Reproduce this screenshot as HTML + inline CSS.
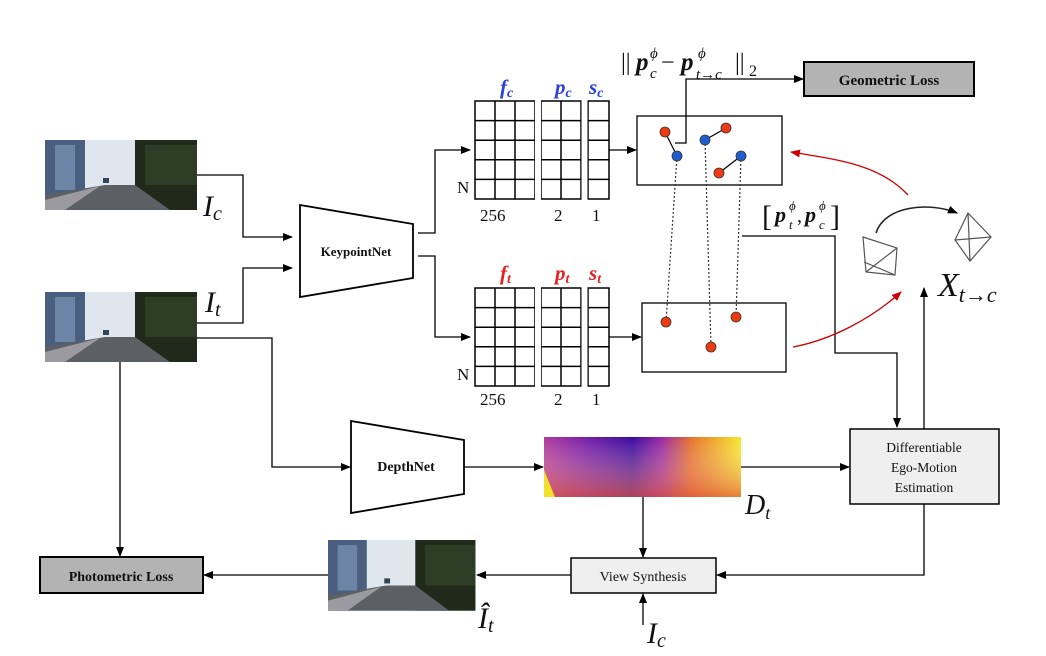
<!DOCTYPE html>
<html><head><meta charset="utf-8"><style>
html,body{margin:0;padding:0;background:#fff}
svg{display:block}
.s{font-family:"Liberation Serif",serif}
</style></head><body>
<svg width="1046" height="656" viewBox="0 0 1046 656" xmlns="http://www.w3.org/2000/svg">
<defs>
<marker id="a" markerWidth="10" markerHeight="8" refX="9" refY="4" orient="auto" markerUnits="userSpaceOnUse"><path d="M0,0 L10,4 L0,8 z" fill="#000"/></marker>
<marker id="r" markerWidth="10" markerHeight="8" refX="9" refY="4" orient="auto" markerUnits="userSpaceOnUse"><path d="M0,0 L10,4 L0,8 z" fill="#c00"/></marker>
<linearGradient id="dg" x1="0" y1="0" x2="1" y2="0">
<stop offset="0" stop-color="#b03a9a"/><stop offset="0.2" stop-color="#7a1fa8"/><stop offset="0.45" stop-color="#3b0a9e"/><stop offset="0.6" stop-color="#9a28a0"/><stop offset="0.75" stop-color="#e8732a"/><stop offset="1" stop-color="#f5e72a"/></linearGradient>
<linearGradient id="dv" x1="0" y1="0" x2="0" y2="1"><stop offset="0" stop-color="#fff" stop-opacity="0"/><stop offset="1" stop-color="#e0583a" stop-opacity="0.7"/></linearGradient>
<g id="img">
<rect x="0" y="0" width="152" height="70" fill="#dfe6ee"/>
<rect x="0" y="0" width="40" height="58" fill="#4a5f80"/>
<rect x="10" y="5" width="20" height="45" fill="#6e84a6"/>
<rect x="90" y="0" width="62" height="70" fill="#1f2a1a"/>
<rect x="100" y="5" width="52" height="40" fill="#2e3d25"/>
<path d="M0,70 L0,55 L60,45 L90,45 L125,70 z" fill="#5c5f63"/>
<path d="M0,70 L0,60 L55,46 L20,70 z" fill="#9a9aa0"/>
<rect x="58" y="38" width="6" height="5" fill="#345"/>
</g>
</defs>

<use href="#img" x="45" y="140"/>
<use href="#img" x="45" y="292"/>
<use href="#img" x="328" y="540" transform="translate(328,540) scale(0.97,1.01) translate(-328,-540)"/>

<g stroke="#000" stroke-width="1.3" fill="none">
<polyline points="197,175 243,175 243,237 292,237" marker-end="url(#a)"/>
<polyline points="197,323 243,323 243,268 292,268" marker-end="url(#a)"/>
<polygon points="300,205 413,224 413,278 300,297" stroke-width="1.8"/>
<polyline points="418,233 435,233 435,150 470,150" marker-end="url(#a)"/>
<polyline points="418,256 435,256 435,337 470,337" marker-end="url(#a)"/>
<polyline points="609,150 636,150" marker-end="url(#a)"/>
<polyline points="609,337 641,337" marker-end="url(#a)"/>
<rect x="637" y="116" width="145" height="69"/>
<rect x="642" y="303" width="144" height="69"/>
<polyline points="675,143 686,143 686,79 803,79" marker-end="url(#a)"/>
<polyline points="742,236 835,236 835,353 897,353 897,427" marker-end="url(#a)"/>
<polyline points="924,429 924,288" marker-end="url(#a)"/>
<polyline points="197,338 272,338 272,467 350,467" marker-end="url(#a)"/>
<polygon points="351,421 464,440 464,494 351,513" stroke-width="1.8"/>
<polyline points="464,467 543,467" marker-end="url(#a)"/>
<polyline points="741,467 849,467" marker-end="url(#a)"/>
<polyline points="643,497 643,557" marker-end="url(#a)"/>
<polyline points="924,504 924,575 717,575" marker-end="url(#a)"/>
<polyline points="643,625 643,594" marker-end="url(#a)"/>
<polyline points="571,575 477,575" marker-end="url(#a)"/>
<polyline points="328,575 204,575" marker-end="url(#a)"/>
<polyline points="120,362 120,556" marker-end="url(#a)"/>
</g>

<g stroke="#000" stroke-width="1.5" fill="#fff">
<g id="grid">
<rect x="475" y="101" width="60" height="98"/>
<line x1="495" y1="101" x2="495" y2="199"/><line x1="515" y1="101" x2="515" y2="199"/>
<rect x="541" y="101" width="40" height="98"/>
<line x1="561" y1="101" x2="561" y2="199"/>
<rect x="588" y="101" width="21" height="98"/>
<line x1="475" y1="120.6" x2="609" y2="120.6"/><line x1="475" y1="140.2" x2="609" y2="140.2"/><line x1="475" y1="159.8" x2="609" y2="159.8"/><line x1="475" y1="179.4" x2="609" y2="179.4"/>
</g>
<use href="#grid" y="187"/>
</g>
<g stroke="#fff" stroke-width="6"><line x1="538" y1="100" x2="538" y2="200"/><line x1="584.5" y1="100" x2="584.5" y2="200"/><line x1="538" y1="287" x2="538" y2="387"/><line x1="584.5" y1="287" x2="584.5" y2="387"/></g>

<g class="s" font-size="17" fill="#111">
<text x="457" y="193">N</text><text x="457" y="380">N</text>
<text x="480" y="221">256</text><text x="554" y="221">2</text><text x="592" y="221">1</text>
<text x="480" y="405">256</text><text x="554" y="405">2</text><text x="592" y="405">1</text>
</g>
<g class="s" font-size="21" font-weight="bold" font-style="italic">
<text x="500" y="94" fill="#2a3fe0">f<tspan font-size="14" dy="3">c</tspan></text>
<text x="555" y="94" fill="#2a3fe0">p<tspan font-size="14" dy="3">c</tspan></text>
<text x="589" y="94" fill="#2a3fe0">s<tspan font-size="14" dy="3">c</tspan></text>
<text x="500" y="280" fill="#e82020">f<tspan font-size="14" dy="3">t</tspan></text>
<text x="555" y="280" fill="#e82020">p<tspan font-size="14" dy="3">t</tspan></text>
<text x="589" y="280" fill="#e82020">s<tspan font-size="14" dy="3">t</tspan></text>
</g>

<g stroke="#000" stroke-width="1.2">
<line x1="665" y1="132" x2="677" y2="156"/><line x1="705" y1="140" x2="726" y2="128"/><line x1="741" y1="156" x2="719" y2="173"/>
</g>
<g stroke="#333" stroke-width="1.2" stroke-dasharray="2,2">
<line x1="677" y1="156" x2="666" y2="322"/><line x1="705" y1="140" x2="711" y2="347"/><line x1="741" y1="156" x2="736" y2="317"/>
</g>
<g stroke="#333" stroke-width="0.8">
<circle cx="665" cy="132" r="5" fill="#f03a10"/><circle cx="726" cy="128" r="5" fill="#f03a10"/><circle cx="719" cy="173" r="5" fill="#f03a10"/>
<circle cx="677" cy="156" r="5" fill="#1f5fd0"/><circle cx="705" cy="140" r="5" fill="#1f5fd0"/><circle cx="741" cy="156" r="5" fill="#1f5fd0"/>
<circle cx="666" cy="322" r="5" fill="#f03a10"/><circle cx="736" cy="317" r="5" fill="#f03a10"/><circle cx="711" cy="347" r="5" fill="#f03a10"/>
</g>

<rect x="804" y="62" width="170" height="34" fill="#b3b3b3" stroke="#000" stroke-width="2"/>
<text x="889" y="85" class="s" font-size="15" font-weight="bold" text-anchor="middle" fill="#111">Geometric Loss</text>

<!-- formula -->
<g class="s" fill="#111">
<text x="621" y="70" font-size="24">||</text>
<text x="636" y="70" font-size="25" font-weight="bold" font-style="italic">p</text>
<text x="650" y="78" font-size="15" font-style="italic">c</text>
<text x="650" y="58" font-size="15" font-style="italic">ϕ</text>
<text x="661" y="70" font-size="24">−</text>
<text x="681" y="70" font-size="25" font-weight="bold" font-style="italic">p</text>
<text x="696" y="79" font-size="15" font-style="italic">t→c</text>
<text x="698" y="58" font-size="15" font-style="italic">ϕ</text>
<text x="735" y="70" font-size="24">||</text>
<text x="749" y="76" font-size="16">2</text>
</g>
<g class="s" fill="#111">
<text x="762" y="226" font-size="30">[</text>
<text x="775" y="222" font-size="22" font-weight="bold" font-style="italic">p</text>
<text x="789" y="229" font-size="13" font-style="italic">t</text>
<text x="789" y="210" font-size="13" font-style="italic">ϕ</text>
<text x="797" y="222" font-size="20">,</text>
<text x="805" y="222" font-size="22" font-weight="bold" font-style="italic">p</text>
<text x="819" y="229" font-size="13" font-style="italic">c</text>
<text x="819" y="210" font-size="13" font-style="italic">ϕ</text>
<text x="830" y="226" font-size="30">]</text>
</g>

<path d="M908,195 C880,165 840,160 791,152" stroke="#c00" stroke-width="1.3" fill="none" marker-end="url(#r)"/>
<path d="M793,347 C830,340 870,320 901,292" stroke="#c00" stroke-width="1.3" fill="none" marker-end="url(#r)"/>

<path d="M876,233 C885,205 930,202 957,213" stroke="#222" stroke-width="1.5" fill="none" marker-end="url(#a)"/>
<g stroke="#555" stroke-width="1.2" fill="none">
<polygon points="863,237 897,248 895,275 866,272"/><line x1="866" y1="272" x2="897" y2="248"/><line x1="864" y1="262" x2="895" y2="275"/>
<polygon points="968,213 991,237 970,261 955,240"/><line x1="955" y1="240" x2="991" y2="237"/><line x1="968" y1="213" x2="970" y2="261"/>
</g>
<text x="938" y="296" class="s" font-size="34" font-style="italic" fill="#111">X<tspan font-size="22" dy="6">t→c</tspan></text>

<text x="203" y="216" class="s" font-size="30" font-style="italic" fill="#111">I<tspan font-size="20" dy="4">c</tspan></text>
<text x="205" y="312" class="s" font-size="30" font-style="italic" fill="#111">I<tspan font-size="20" dy="4">t</tspan></text>
<text x="356" y="256" class="s" font-size="13" font-weight="bold" text-anchor="middle" fill="#111">KeypointNet</text>
<text x="406" y="471" class="s" font-size="14" font-weight="bold" text-anchor="middle" fill="#111">DepthNet</text>

<rect x="544" y="437" width="197" height="60" fill="url(#dg)"/>
<rect x="544" y="437" width="197" height="60" fill="url(#dv)"/>
<path d="M544,470 L555,497 L544,497 z" fill="#f3e02a"/>
<text x="745" y="514" class="s" font-size="28" font-style="italic" fill="#111">D<tspan font-size="18" dy="5">t</tspan></text>

<rect x="850" y="429" width="149" height="75" fill="#efefef" stroke="#000" stroke-width="1.5"/>
<g class="s" font-size="13.5" text-anchor="middle" fill="#111">
<text x="924" y="452">Differentiable</text><text x="924" y="472">Ego-Motion</text><text x="924" y="492">Estimation</text></g>

<rect x="571" y="558" width="145" height="35" fill="#efefef" stroke="#000" stroke-width="1.5"/>
<text x="643" y="581" class="s" font-size="14" text-anchor="middle" fill="#111">View Synthesis</text>
<text x="647" y="643" class="s" font-size="30" font-style="italic" fill="#111">I<tspan font-size="20" dy="4">c</tspan></text>
<text x="478" y="628" class="s" font-size="30" font-style="italic" fill="#111">Î<tspan font-size="20" dy="4">t</tspan></text>

<rect x="40" y="557" width="163" height="36" fill="#b3b3b3" stroke="#000" stroke-width="2"/>
<text x="121" y="581" class="s" font-size="14" font-weight="bold" text-anchor="middle" fill="#111">Photometric Loss</text>
</svg>
</body></html>
